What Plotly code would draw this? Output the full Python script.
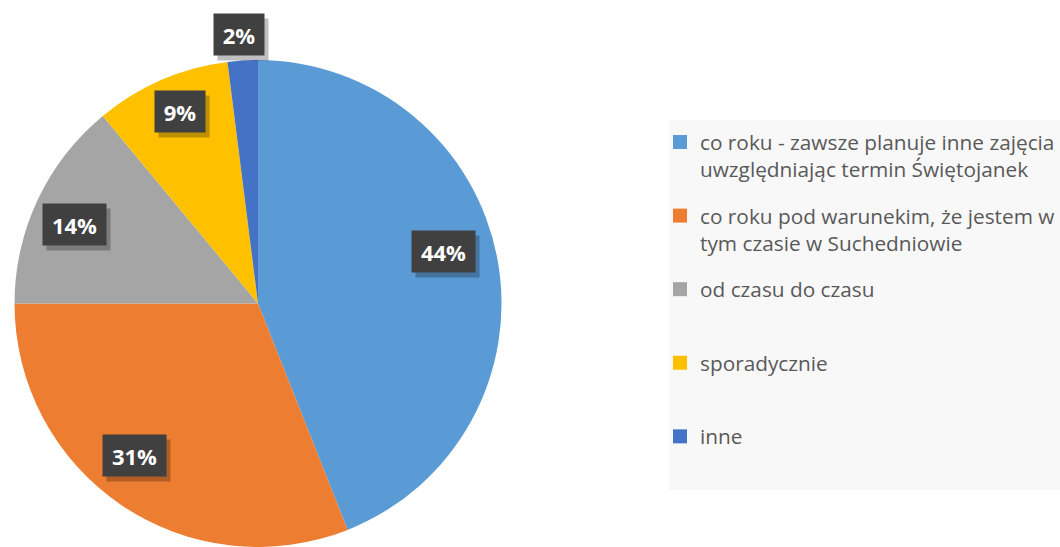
import math
import textwrap
import plotly.graph_objects as go

# ---- data ----
categories = [
    "co roku - zawsze planuje inne zajęcia uwzględniając termin Świętojanek",
    "co roku pod warunekim, że jestem w tym czasie w Suchedniowie",
    "od czasu do czasu",
    "sporadycznie",
    "inne",
]
values = [44, 31, 14, 9, 2]
colors = ["#5B9BD5", "#ED7D31", "#A5A5A5", "#FFC000", "#4472C4"]

# label placement style (radial fraction, angular tweak in degrees)
label_radius = [0.80, 0.81, 0.81, 0.84, 1.10]
label_angle_tweak = [-4.0, 4.0, -2.3, 1.5, 0.0]

W, H = 1060, 547
CX, CY, R = 256, 301, 243  # label anchor centre / radius in px


def wrap2(s):
    lines = textwrap.wrap(s, width=37)
    while len(lines) < 2:
        lines.append(" ")
    return "<br>".join(lines)


legend_labels = [wrap2(c) for c in categories]

fig = go.Figure()
fig.add_trace(go.Pie(
    labels=categories,
    values=values,
    sort=False,
    direction="clockwise",
    rotation=0,
    marker=dict(colors=colors, line=dict(width=0)),
    textinfo="none",
    hoverinfo="label+percent",
    showlegend=False,
    domain=dict(x=[13 / W, 503 / W], y=[0, 1 - 60 / H]),
))

# legend entries (one per category, evenly spaced like the original)
for lab, col, cat in zip(legend_labels, colors, categories):
    fig.add_trace(go.Scatter(
        x=[None], y=[None], mode="markers", name=lab, legendgroup=cat,
        marker=dict(symbol="square", size=14, color=col),
        hoverinfo="skip",
    ))

# data labels with dark boxes + shadow
total = sum(values)
cum = 0
annotations = []
shadows = []
cxp, cyp = CX / W, 1 - CY / H
for i, v in enumerate(values):
    mid = (cum + v / 2) / total * 360 + label_angle_tweak[i]
    cum += v
    rr = R * label_radius[i]
    dx = rr * math.sin(math.radians(mid))
    dy = rr * math.cos(math.radians(mid))
    txt = f"{round(v / total * 100)}%"
    wbox = 13 * len(txt) + 10
    common = dict(x=cxp, y=cyp, xref="paper", yref="paper", text=f"<b>{txt}</b>",
                  showarrow=False, width=wbox, height=27, borderpad=7, align="center",
                  valign="middle", xanchor="center", yanchor="middle")
    shadows.append(dict(**common, xshift=dx + 4, yshift=dy - 5,
                        bgcolor="rgba(0,0,0,0.25)",
                        font=dict(family="Open Sans", size=22, color="rgba(0,0,0,0)")))
    annotations.append(dict(**common, xshift=dx, yshift=dy, bgcolor="#404040",
                            font=dict(family="Open Sans", size=22, color="white")))

fig.update_layout(
    width=W, height=H,
    margin=dict(l=0, r=0, t=0, b=0),
    paper_bgcolor="white",
    plot_bgcolor="white",
    xaxis=dict(visible=False),
    yaxis=dict(visible=False),
    annotations=shadows + annotations,
    shapes=[dict(type="rect", xref="paper", yref="paper",
                 x0=669 / W, x1=1.0, y0=1 - 490 / H, y1=1 - 120 / H,
                 fillcolor="#F8F8F8", line=dict(width=0), layer="below")],
    showlegend=True,
    legend=dict(
        x=1.0, y=1 - 122 / H, xanchor="right", yanchor="top",
        bgcolor="rgba(0,0,0,0)",
        font=dict(family="Open Sans", size=20.8, color="#595959"),
        traceorder="grouped",
        tracegroupgap=16.5,
        valign="top",
        itemclick=False,
        itemdoubleclick=False,
    ),
)

fig.write_html("out.html", config={"displayModeBar": False},
               post_script="document.body.style.margin='0';")
